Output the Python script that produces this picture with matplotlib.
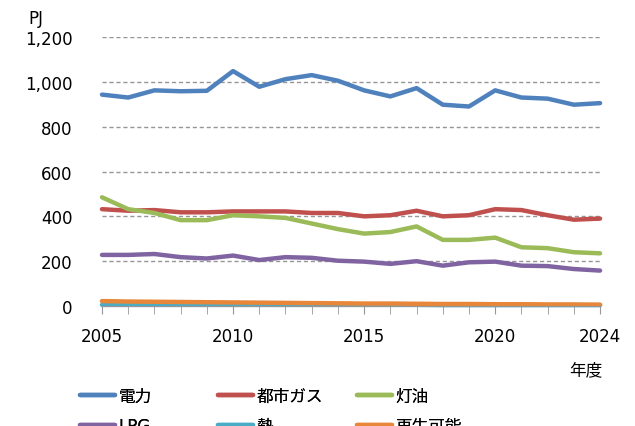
import numpy as np
import matplotlib
matplotlib.use("Agg")
import matplotlib.pyplot as plt

plt.rcParams['font.family'] = ['DejaVu Sans', 'Noto Sans CJK JP']

years = np.arange(2005, 2025)
electricity = [943, 930, 962, 958, 960, 1048, 978, 1012, 1030, 1005,
               962, 935, 972, 898, 890, 962, 930, 925, 898, 905]
city_gas = [432, 425, 428, 418, 418, 422, 422, 422, 415, 415,
            400, 405, 425, 400, 405, 432, 428, 405, 385, 390]
kerosene = [485, 432, 415, 383, 383, 405, 400, 393, 368, 343,
            323, 330, 355, 295, 295, 305, 262, 258, 240, 235]
lpg = [228, 228, 232, 218, 212, 225, 205, 218, 215, 202,
       198, 188, 200, 180, 195, 198, 180, 178, 165, 158]
heat = [5, 5, 5, 5, 5, 5, 5, 5, 5, 5,
        5, 5, 5, 4, 4, 4, 4, 4, 4, 4]
renewable = [22, 20, 19, 18, 17, 16, 15, 14, 13, 12,
             11, 11, 10, 9, 9, 8, 8, 7, 7, 6]

series = [("電力", electricity, "#4F81BD"),
          ("都市ガス", city_gas, "#C0504D"),
          ("灯油", kerosene, "#9BBB59"),
          ("LPG", lpg, "#8064A2"),
          ("熱", heat, "#4BACC6"),
          ("再生可能", renewable, "#E8873A")]

fig = plt.figure(figsize=(6.35, 4.27), dpi=100)
ax = fig.add_axes([0.1606, 0.281, 0.7844, 0.630])

lines = []
for name, vals, col in series:
    ln, = ax.plot(years, vals, color=col, lw=3.2, label=name, clip_on=False,
                  solid_capstyle='round')
    lines.append(ln)

ax.set_xlim(2005, 2024)
ax.set_ylim(0, 1200)
ax.set_yticks(range(0, 1201, 200))
ax.set_yticklabels([f"{v:,}" for v in range(0, 1201, 200)])
ax.set_xticks(years, minor=True)
ax.set_xticks([2005, 2010, 2015, 2020, 2024])
ax.yaxis.grid(True, linestyle=(0, (3, 2)), color='#969696', lw=1)
ax.set_axisbelow(True)
for s in ['left', 'right', 'top']:
    ax.spines[s].set_visible(False)
ax.spines['bottom'].set_color('#969696')
ax.tick_params(axis='y', length=0, labelsize=12, pad=21)
ax.tick_params(axis='x', which='both', direction='out', length=6,
               color='#969696', labelsize=12, pad=9)

fig.text(0.045, 0.955, "PJ", fontsize=12, va='center')
fig.text(0.948, 0.133, "年度", fontsize=12, ha='right', va='center')

# one legend per column, two rows each (second row runs off the bottom)
col_x = [0.126, 0.343, 0.562]
for i, x in enumerate(col_x):
    hs = [lines[i], lines[i + 3]]
    leg = fig.legend(hs, [h.get_label() for h in hs], loc='upper left',
                     bbox_to_anchor=(x, 0.092), frameon=False, fontsize=12,
                     handlelength=2.1, handletextpad=0.2, labelspacing=0.75,
                     borderaxespad=0, borderpad=0)
    fig.add_artist(leg)

fig.savefig("out.png", dpi=100)
